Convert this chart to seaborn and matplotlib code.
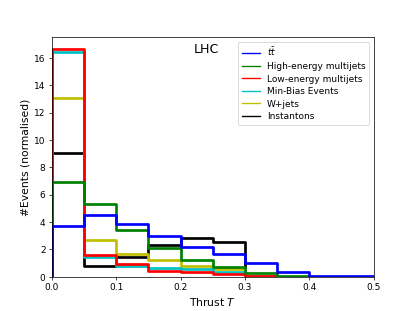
import pandas as pd
import matplotlib
matplotlib.use("Agg")
import matplotlib.pyplot as plt
from matplotlib.lines import Line2D
import seaborn as sns

# Thrust bins (width 0.05) and normalised event counts
thrust_edges = [0.0, 0.05, 0.1, 0.15, 0.2, 0.25, 0.3, 0.35, 0.4, 0.45, 0.5]

ttbar = [3.71, 4.53, 3.83, 2.98, 2.18, 1.63, 0.97, 0.32, 0.03, 0.02]
high_multijets = [6.96, 5.31, 3.45, 2.09, 1.26, 0.73, 0.25, 0.05, 0.0, 0.0]
low_multijets = [16.68, 1.58, 0.90, 0.44, 0.32, 0.20, 0.08, 0.0, 0.0, 0.0]
min_bias = [16.41, 1.45, 0.78, 0.65, 0.58, 0.38, 0.05, 0.0, 0.0, 0.0]
w_jets = [13.04, 2.65, 1.67, 1.19, 0.78, 0.54, 0.05, 0.0, 0.0, 0.0]
instantons = [9.04, 0.78, 1.45, 2.30, 2.86, 2.57, 0.0, 0.0, 0.0, 0.0]

labels = [r"$t\bar{t}$", "High-energy multijets", "Low-energy multijets",
          "Min-Bias Events", "W+jets", "Instantons"]
series = [ttbar, high_multijets, low_multijets, min_bias, w_jets, instantons]
colors = ["b", "g", "r", "c", "y", "k"]

fig, ax = plt.subplots(figsize=(6.4, 4.8))

# pad with an empty bin on each side so the outline rises from zero at the edges
width = thrust_edges[1] - thrust_edges[0]
edges = [thrust_edges[0] - width] + thrust_edges + [thrust_edges[-1] + width]
centers = [(a + b) / 2 for a, b in zip(edges[:-1], edges[1:])]

# draw in reverse so the first sample ends up on top
for vals, col in reversed(list(zip(series, colors))):
    df = pd.DataFrame({"thrust": centers, "w": [0.0] + list(vals) + [0.0]})
    sns.histplot(data=df, x="thrust", weights="w", bins=edges, element="step",
                 fill=False, color=col, lw=3, ax=ax)

ax.set_xlim(0, 0.5)
ax.set_ylim(0, max(max(s) for s in series) * 1.05)
ax.set_xlabel("Thrust $T$", fontsize=12)
ax.set_ylabel("#Events (normalised)", fontsize=12)
ax.text(0.48, 0.95, "LHC", transform=ax.transAxes, fontsize=14,
        ha="center", va="center")

handles = [Line2D([], [], color=c, lw=1.5) for c in colors]
ax.legend(handles, labels, loc="upper right", labelspacing=0.4)

fig.savefig("out.png", dpi=415 / 6.4)
